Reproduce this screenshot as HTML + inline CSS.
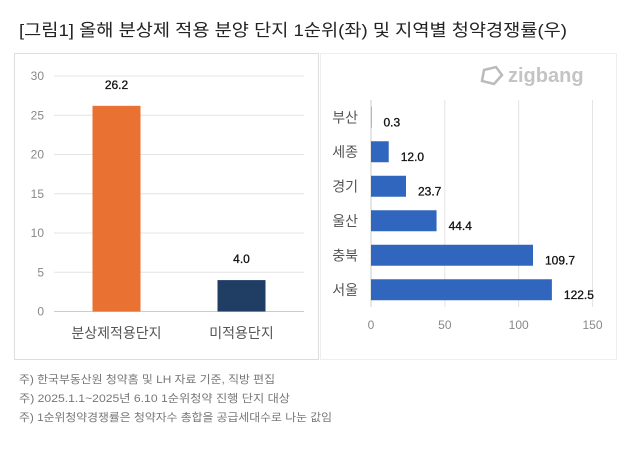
<!DOCTYPE html>
<html><head><meta charset="utf-8"><style>
body{margin:0;background:#fff;width:640px;height:464px;overflow:hidden;font-family:"Liberation Sans","Noto Sans CJK KR",sans-serif}
svg text{font-family:"Liberation Sans","Noto Sans CJK KR",sans-serif}
</style></head><body>
<svg width="640" height="464">
<text x="19" y="36" font-size="17" fill="#222" textLength="548" lengthAdjust="spacingAndGlyphs">[그림1] 올해 분상제 적용 분양 단지 1순위(좌) 및 지역별 청약경쟁률(우)</text>
<rect x="14.5" y="53.5" width="304" height="306" fill="#fff" stroke="#ddd"/>
<rect x="320.5" y="53.5" width="296" height="306" fill="#fff" stroke="#eee"/>
<g><path d="M484 70 l12 -3 l6 8 l-8 9 l-12 -3 z" fill="none" stroke="#bbb" stroke-width="2.5"/><text x="508" y="82" font-size="20" font-weight="bold" fill="#c4c4c4">zigbang</text></g>
<g id="left"></g>
<g id="right"></g>
<g font-size="11" fill="#777">
<text x="19" y="383" textLength="256" lengthAdjust="spacingAndGlyphs">주) 한국부동산원 청약홈 및 LH 자료 기준, 직방 편집</text>
<text x="19" y="402" textLength="271" lengthAdjust="spacingAndGlyphs">주) 2025.1.1~2025년 6.10 1순위청약 진행 단지 대상</text>
<text x="19" y="421" textLength="313" lengthAdjust="spacingAndGlyphs">주) 1순위청약경쟁률은 청약자수 총합을 공급세대수로 나눈 값임</text>
</g>
</svg>
<script>
const leftCats=["분상제적용단지","미적용단지"];
const leftVals=[26.2,4.0];
const leftLabels=["26.2","4.0"];
const leftTicks=[0,5,10,15,20,25,30];
const rightCats=["부산","세종","경기","울산","충북","서울"];
const rightVals=[0.3,12.0,23.7,44.4,109.7,122.5];
const rightLabels=["0.3","12.0","23.7","44.4","109.7","122.5"];
const rightTicks=[0,50,100,150];
const NS="http://www.w3.org/2000/svg";
function mk(p,t,a,txt){const e=document.createElementNS(NS,t);for(const k in a)e.setAttribute(k,a[k]);if(txt!=null)e.textContent=txt;p.appendChild(e);return e;}
// left
const L=document.getElementById('left');
const ly=v=>311.5-v*(235.5/30);
const lx0=54,lx1=304,bw=(lx1-lx0)/leftCats.length;
leftTicks.forEach(t=>{
 const g=mk(L,'line',{x1:lx0,x2:lx1,y1:ly(t),y2:ly(t),stroke:t===0?'#ccc':'#e4e4e4'});
 
 
 const tx=mk(L,'text',{x:44,y:ly(t)+4,'text-anchor':'end','font-size':'12',fill:'#888'},t);
 
 
});
const colors=['#e97132','#203d64'];
leftCats.forEach((c,i)=>{
 const cx=lx0+bw*(i+0.5);
 const r=mk(L,'rect',{x:cx-24,y:ly(leftVals[i]),width:48,height:ly(0)-ly(leftVals[i]),fill:colors[i]});
 
 
 const v=mk(L,'text',{x:cx,y:ly(leftVals[i])-17,'text-anchor':'middle','font-size':'12',fill:'#111','stroke':'#111','stroke-width':'0.3'},leftLabels[i]);
 
 
 const cl=mk(L,'text',{x:cx,y:338,'text-anchor':'middle','font-size':'14',fill:'#555'},c);
 
 
});
// right
const R=document.getElementById('right');
const rx=v=>371+v*(221.5/150);
const ry0=100,band=207/rightCats.length;
rightTicks.forEach(t=>{
 const g=mk(R,'line',{x1:rx(t),x2:rx(t),y1:ry0,y2:ry0+207,stroke:t===0?'#ccc':'#e4e4e4'});
 
 
 const tx=mk(R,'text',{x:rx(t),y:329,'text-anchor':'middle','font-size':'12',fill:'#888'},t);
 
 
});
rightCats.forEach((c,i)=>{
 const cy=ry0+band*(i+0.5);
 const r=mk(R,'rect',{x:rx(0),y:cy-10.5,width:rx(rightVals[i])-rx(0),height:21,fill:'#3066be'});
 
 
 const v=mk(R,'text',{x:rx(rightVals[i])+12,y:cy+9,'font-size':'12',fill:'#111','stroke':'#111','stroke-width':'0.3'},rightLabels[i]);
 
 
 const cl=mk(R,'text',{x:358,y:cy+5,'text-anchor':'end','font-size':'14',fill:'#555'},c);
 
 
});
</script>
</body></html>
